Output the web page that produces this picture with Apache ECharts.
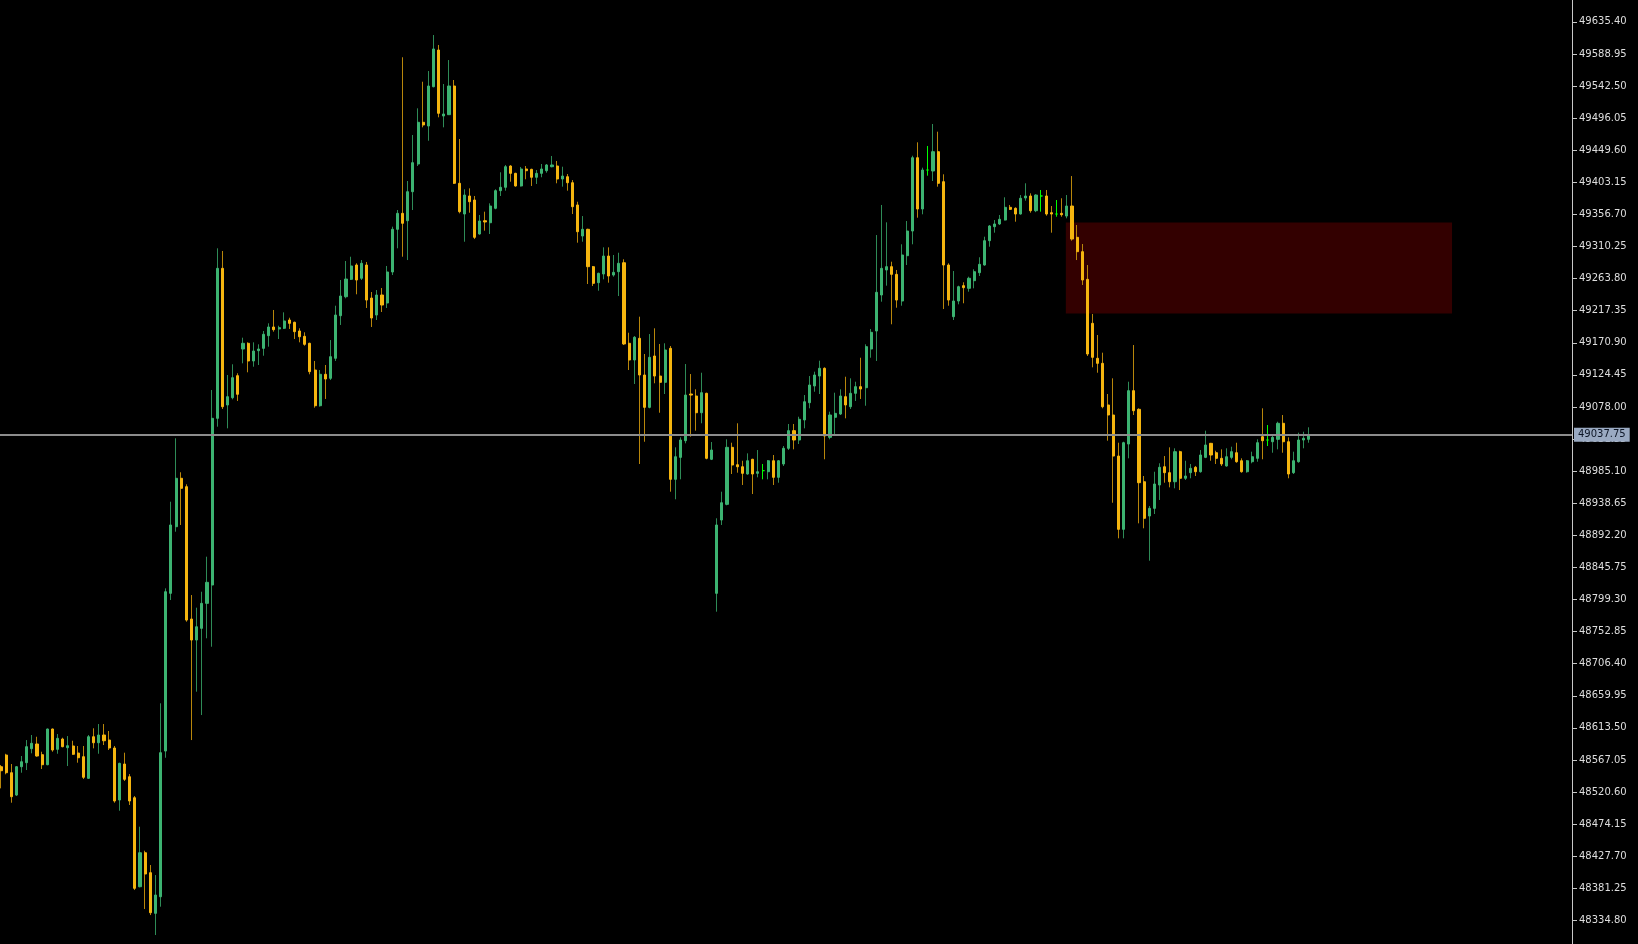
<!DOCTYPE html>
<html>
<head>
<meta charset="utf-8">
<script src="https://cdn.jsdelivr.net/npm/echarts@6/dist/echarts.min.js"></script>
<style>
html,body{margin:0;padding:0;background:#000;}
#chart{width:1638px;height:944px;}
</style>
</head>
<body>
<div id="chart"></div>
<script>
// ---- data (bar index = position on the time scale) ----
const opens = [48557.3,48574.2,48548.6,48516.3,48557.3,48563.1,48583.4,48590.2,48574.7,48560.2,48611.9,48582.5,48597.4,48584.8,48587.3,48577.1,48571.8,48540.5,48600.7,48592.0,48603.2,48595.9,48584.4,48509.1,48561.2,48542.8,48512.4,48383.6,48432.8,48403.9,48345.1,48369.1,48580.0,48808.3,48904.7,48974.8,48962.6,48771.1,48740.7,48757.6,48793.8,48820.3,49061.6,49278.7,49080.9,49091.4,49123.3,49161.9,49170.2,49144.6,49159.5,49162.9,49181.2,49193.8,49190.9,49191.9,49203.9,49200.6,49188.0,49180.3,49170.2,49131.5,49079.8,49125.3,49119.5,49148.5,49210.1,49237.6,49262.8,49283.5,49264.3,49283.5,49235.7,49211.1,49240.1,49228.5,49273.4,49335.2,49358.3,49347.6,49389.6,49429.7,49490.1,49484.7,49541.6,49594.7,49499.2,49501.1,49542.6,49401.8,49357.3,49383.4,49377.6,49328.4,49347.6,49344.7,49365.6,49391.1,49396.0,49426.8,49416.2,49397.9,49422.5,49422.0,49410.5,49416.2,49420.0,49425.8,49426.8,49408.0,49411.3,49402.6,49370.4,49325.5,49335.2,49281.1,49257.9,49270.5,49296.5,49269.0,49273.8,49286.8,49170.2,49146.0,49177.4,49124.3,49077.5,49151.8,49122.8,49113.7,49162.9,48973.3,49005.1,49029.2,49096.8,49093.9,49069.7,49097.8,49002.3,48808.3,48914.4,48937.1,49019.6,48994.4,48991.5,48981.0,49002.3,48982.0,48985.8,48984.3,49000.2,48976.2,48995.5,49018.2,49043.7,49030.2,49059.2,49084.2,49108.4,49122.8,49134.0,49034.1,49063.1,49067.8,49092.9,49078.4,49097.8,49107.4,49105.9,49161.9,49188.0,49240.1,49276.3,49281.1,49270.0,49231.4,49297.0,49332.7,49438.8,49364.6,49421.0,49419.6,49447.5,49404.1,49283.5,49208.7,49231.4,49253.6,49249.8,49260.8,49272.4,49283.5,49318.7,49339.0,49342.9,49348.6,49367.0,49365.6,49357.3,49380.5,49383.4,49362.1,49383.4,49383.4,49359.2,49357.3,49358.3,49354.4,49368.9,49323.6,49302.8,49262.8,49199.1,49148.5,49141.2,49080.9,49066.4,49007.0,48900.9,49024.4,49101.6,49074.6,48969.8,48920.2,48931.3,48965.1,48991.5,48982.9,48969.8,49013.3,48974.8,48982.9,48990.7,48984.3,49005.1,49025.4,49011.8,49003.7,48992.6,49005.1,49011.8,49000.2,48984.3,48998.8,49003.7,49035.0,49030.2,49027.7,49031.2,49054.4,49027.7,48982.9,48998.8,49030.2,49031.2];
const highs = [48559.8,48576.0,48561.2,48558.3,48572.8,48595.9,48603.2,48600.7,48579.0,48612.5,48612.5,48604.6,48599.3,48601.7,48594.9,48587.3,48587.3,48603.2,48612.9,48619.1,48619.1,48609.0,48587.3,48563.1,48577.6,48546.7,48514.9,48470.5,48435.7,48415.0,48400.5,48649.1,48815.5,48940.9,49032.7,48983.5,48966.1,48805.8,48787.5,48810.6,48861.3,49102.6,49307.7,49303.8,49124.3,49139.8,49126.8,49178.3,49171.6,49171.6,49168.7,49188.0,49199.1,49218.4,49195.6,49215.0,49207.2,49201.5,49191.9,49186.1,49171.0,49144.6,49131.5,49138.8,49174.9,49224.6,49261.8,49289.3,49295.5,49286.0,49290.7,49287.9,49244.4,49247.3,49250.2,49282.1,49339.0,49363.1,49584.2,49405.1,49471.7,49510.3,49548.8,49564.3,49616.4,49602.0,49545.5,49580.2,49551.3,49465.9,49393.1,49394.5,49383.4,49355.9,49360.7,49372.8,49393.1,49417.7,49428.3,49428.0,49417.0,49425.4,49426.8,49422.8,49421.0,49429.7,49429.7,49441.3,49434.1,49425.8,49415.2,49406.5,49375.1,49354.4,49336.0,49282.1,49272.4,49309.1,49309.1,49298.0,49301.3,49291.8,49185.5,49180.7,49208.7,49154.7,49183.6,49191.9,49169.2,49170.2,49166.3,49019.6,49034.1,49140.2,49125.7,49103.6,49127.6,49098.7,49027.3,48916.9,48955.4,49031.2,49026.3,49054.4,49000.2,49010.9,49003.0,49015.7,48995.5,49001.2,49008.5,49001.2,49021.5,49053.4,49053.4,49063.9,49095.3,49122.8,49129.1,49145.0,49135.4,49071.2,49098.7,49103.6,49121.8,49119.5,49114.6,49149.3,49168.7,49190.9,49326.9,49370.4,49345.3,49288.3,49276.3,49313.5,49347.2,49441.7,49461.1,49424.4,49455.8,49487.6,49476.5,49414.8,49286.0,49274.8,49253.6,49258.5,49266.6,49277.3,49294.7,49324.5,49341.4,49348.6,49355.9,49381.5,49370.4,49367.0,49384.8,49401.8,49387.3,49386.0,49392.1,49392.1,49368.9,49377.6,49380.1,49384.8,49412.3,49341.4,49313.9,49283.5,49212.6,49182.2,49156.6,49096.8,49119.5,49026.3,49027.7,49114.6,49167.7,49076.1,48978.1,48934.7,48984.3,48996.5,49007.0,49019.6,49018.2,49014.7,49000.2,48995.5,48992.6,49015.7,49043.7,49026.0,49014.7,49016.7,49018.2,49020.5,49026.3,49003.7,49001.2,49013.3,49031.2,49076.1,49051.9,49038.9,49056.7,49066.4,49034.1,49013.3,49040.8,49042.2,49048.6];
const lows = [48526.0,48546.3,48505.2,48514.9,48548.6,48552.5,48576.7,48571.8,48554.0,48559.5,48579.0,48576.1,48585.4,48558.3,48574.7,48563.1,48539.5,48539.9,48583.9,48576.1,48588.7,48581.5,48505.2,48493.6,48536.6,48501.9,48378.8,48382.7,48351.3,48342.6,48313.7,48354.7,48570.3,48798.6,48897.5,48907.2,48767.2,48595.9,48665.9,48632.1,48743.2,48731.0,49049.5,49075.1,49047.1,49089.1,49086.7,49141.2,49128.2,49136.3,49138.8,49152.2,49165.3,49187.0,49176.4,49190.9,49190.9,49176.4,49171.6,49166.7,49125.3,49077.0,49078.5,49089.6,49117.0,49144.6,49196.7,49235.3,49261.8,49241.1,49261.8,49221.3,49193.8,49203.9,49215.5,49221.3,49269.0,49307.7,49295.5,49290.7,49363.1,49426.8,49482.8,49463.4,49540.7,49497.3,49482.8,49500.6,49400.8,49358.3,49317.2,49359.2,49321.1,49327.4,49333.2,49328.4,49364.2,49383.4,49391.1,49404.1,49396.9,49397.0,49407.6,49397.9,49400.8,49410.5,49417.1,49424.9,49401.8,49396.9,49391.1,49357.3,49315.8,49317.2,49256.0,49253.1,49246.3,49262.8,49257.9,49266.6,49238.6,49167.7,49131.5,49111.3,48995.5,49027.7,49076.1,49112.3,49069.7,49096.8,48955.4,48944.4,48973.3,49025.4,49035.0,49043.7,49054.4,49002.3,49001.2,48781.7,48907.2,48935.7,48981.0,48982.9,48965.1,48980.0,48952.0,48976.2,48973.3,48973.3,48965.1,48968.4,48992.6,49015.7,49016.7,49024.4,49047.1,49076.1,49100.1,49096.8,49002.3,49031.2,49037.4,49066.4,49061.6,49075.1,49086.7,49089.6,49079.8,49149.3,49144.6,49230.4,49253.6,49197.7,49221.7,49224.6,49283.5,49313.5,49352.0,49356.9,49412.8,49405.1,49396.9,49219.8,49224.6,49203.9,49226.6,49228.1,49244.9,49249.8,49267.6,49282.5,49310.0,49330.3,49341.4,49348.0,49363.1,49346.2,49356.5,49376.6,49359.2,49360.0,49360.7,49354.9,49330.3,49353.4,49353.4,49351.1,49318.7,49290.7,49254.6,49151.8,49135.4,49127.6,49076.1,49029.2,48939.4,48887.9,48887.9,49003.7,49066.4,48909.6,48902.4,48855.5,48923.1,48943.4,48968.4,48961.7,48960.3,48957.8,48972.3,48974.8,48978.1,48982.9,49004.0,49000.2,48995.5,48992.6,48991.6,49002.3,48997.3,48982.9,48982.9,48996.5,48998.8,49002.3,49021.5,49011.8,49016.7,49011.8,48974.8,48981.0,48997.3,49018.2,49026.3];
const closes = [48551.5,48548.6,48513.9,48557.3,48564.5,48586.3,48591.2,48572.8,48560.2,48611.9,48581.5,48598.4,48586.3,48587.7,48575.3,48570.3,48542.0,48600.7,48592.0,48603.2,48594.9,48584.4,48507.7,48562.2,48539.1,48507.7,48381.3,48432.8,48402.0,48346.0,48371.6,48577.6,48810.6,48907.2,48974.8,48960.3,48769.6,48740.7,48759.9,48793.8,48824.2,49061.6,49278.7,49078.4,49092.9,49120.4,49096.4,49170.2,49144.6,49159.0,49161.9,49183.2,49193.8,49189.9,49192.8,49202.5,49199.1,49187.0,49179.7,49168.7,49129.1,49079.8,49125.3,49118.5,49150.8,49211.1,49238.6,49263.2,49282.1,49261.8,49286.0,49232.8,49206.8,49240.1,49225.6,49273.4,49335.2,49358.3,49343.9,49389.6,49431.6,49490.1,49486.2,49542.6,49596.2,49503.1,49502.1,49542.6,49401.8,49360.7,49384.8,49375.1,49323.6,49347.2,49345.8,49368.9,49391.1,49396.0,49425.8,49416.2,49397.9,49422.5,49420.0,49410.5,49416.2,49422.5,49428.3,49428.3,49408.0,49412.3,49402.6,49367.9,49331.7,49335.2,49281.1,49257.0,49271.5,49296.5,49267.6,49272.9,49286.0,49169.2,49146.0,49178.9,49124.3,49077.5,49149.9,49122.8,49113.7,49160.5,48973.3,49006.0,49030.2,49095.3,49095.3,49069.7,49098.7,49003.7,49015.7,48907.2,48939.4,49019.6,48994.0,48991.5,48982.0,49000.2,48981.0,48984.3,48985.8,49000.2,48976.2,49000.2,49018.2,49043.7,49030.2,49060.2,49085.6,49109.8,49124.3,49134.0,49036.0,49066.4,49068.8,49093.9,49080.9,49097.8,49107.4,49104.0,49165.3,49186.1,49244.0,49278.7,49281.1,49270.0,49232.8,49298.0,49332.7,49438.8,49364.6,49421.0,49421.0,49447.5,49401.8,49283.5,49232.8,49231.4,49252.1,49250.7,49264.3,49273.8,49284.5,49318.7,49340.0,49342.9,49349.7,49367.0,49364.1,49357.3,49380.1,49383.4,49362.1,49384.8,49383.4,49357.3,49357.3,49357.3,49356.3,49368.9,49321.1,49302.8,49261.8,49154.7,49149.9,49141.2,49078.4,49066.4,49007.0,48900.9,49026.3,49101.6,49072.6,48968.4,48916.9,48931.3,48966.5,48990.7,48982.9,48969.8,49013.3,48974.8,48978.1,48989.2,48984.3,49008.5,49023.0,49008.5,49003.7,48995.5,49006.0,49013.3,48998.8,48984.3,49000.2,49006.0,49026.3,49029.2,49030.2,49034.1,49054.4,49027.7,48981.0,49000.2,49030.2,49032.7,49037.75];
const priceTicks = [49635.40,49588.95,49542.50,49496.05,49449.60,49403.15,49356.70,49310.25,49263.80,49217.35,49170.90,49124.45,49078.00,49031.55,48985.10,48938.65,48892.20,48845.75,48799.30,48752.85,48706.40,48659.95,48613.50,48567.05,48520.60,48474.15,48427.70,48381.25,48334.80];
const bidPrice = 49037.75;
const zoneBars = [206.8, 281.8];
const zonePrices = [49345.0, 49213.5];
const yRange = [48300.7, 49667.1];
const xRange = [-0.194, 305.1];

// ---- build series data ----
const wickData = opens.map((o, i) => [i, o, closes[i], lows[i], highs[i]]);
const bodyData = opens.map((o, i) => [i, o, closes[i], Math.min(o, closes[i]), Math.max(o, closes[i])]);

const chart = echarts.init(document.getElementById('chart'), null, {renderer: 'canvas'});
chart.setOption({
  backgroundColor: '#000000',
  animation: false,
  grid: {left: 0, right: 66, top: 0, bottom: 0, containLabel: false},
  xAxis: {type: 'value', min: xRange[0], max: xRange[1], show: false, splitLine: {show: false}},
  yAxis: {
    type: 'value', position: 'right', min: yRange[0], max: yRange[1], scale: true,
    axisLine: {show: true, onZero: false, lineStyle: {color: '#c8c8c8', width: 1}},
    axisTick: {show: true, length: 5, customValues: priceTicks, lineStyle: {color: '#c8c8c8'}},
    axisLabel: {
      customValues: priceTicks, formatter: v => v.toFixed(2),
      color: '#dedede', fontFamily: 'DejaVu Sans', fontSize: 10, margin: 7
    },
    splitLine: {show: false}
  },
  series: [
    {
      type: 'candlestick', name: 'wicks', data: wickData,
      encode: {x: 0, y: [1, 2, 3, 4]},
      barWidth: 1, z: 2,
      itemStyle: {
        color: '#2E8B57', color0: '#B8860B',
        borderColor: '#2E8B57', borderColor0: '#B8860B', borderColorDoji: '#00FF00',
        borderWidth: 1
      },
      markArea: {
        silent: true,
        itemStyle: {color: '#330000'},
        data: [[{xAxis: zoneBars[0], yAxis: zonePrices[0]}, {xAxis: zoneBars[1], yAxis: zonePrices[1]}]]
      }
    },
    {
      type: 'candlestick', name: 'bodies', data: bodyData,
      encode: {x: 0, y: [1, 2, 3, 4]},
      barWidth: 2.6, z: 3,
      itemStyle: {
        color: '#3CB371', color0: '#F5B50F',
        borderColor: '#3CB371', borderColor0: '#F5B50F', borderColorDoji: '#00FF00',
        borderWidth: 1
      },
      markLine: {
        silent: true, symbol: 'none', z: 10,
        lineStyle: {color: '#8c8c8c', width: 2, type: 'solid'},
        label: {
          show: true, position: 'end', distance: 2,
          formatter: () => bidPrice.toFixed(2),
          backgroundColor: '#9aaac2', color: '#0d1626',
          fontFamily: 'DejaVu Sans', fontSize: 10, padding: [2, 4, 2, 4]
        },
        data: [{yAxis: bidPrice}]
      }
    }
  ]
});
</script>
</body>
</html>
